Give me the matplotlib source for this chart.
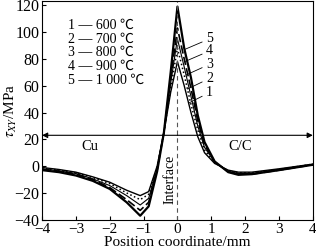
import matplotlib

matplotlib.use("Agg")
import matplotlib.pyplot as plt
import numpy as np

plt.rcParams["font.family"] = ["Liberation Serif", "Noto Sans CJK SC", "DejaVu Sans"]
plt.rcParams["mathtext.fontset"] = "stix"
plt.rcParams["font.size"] = 10

# position coordinate, mm
x = [-4, -3.5, -3, -2.5, -2, -1.5, -1.1, -0.85, -0.6, -0.4, -0.2, 0,
     0.2, 0.4, 0.6, 0.8, 1.1, 1.5, 1.8, 2.2, 3, 4]

# shear stress tau_XY, MPa
tau_600 = [-1, -2.5, -4.5, -8, -12, -18, -22, -19, 0, 25, 55, 78,
           60, 40, 22, 10, 2, -3, -4.5, -4.5, -2, 1.5]
tau_700 = [-1.5, -3, -5, -8.5, -13, -20, -25, -21, -1, 25, 58, 88,
           68, 46, 27, 12, 2.5, -3.5, -5, -5, -2.5, 1.5]
tau_800 = [-2, -3.5, -5.5, -9.5, -14.5, -22, -29, -24, -2, 25, 62, 95,
           74, 52, 30, 14, 3, -4, -5.5, -5.5, -2.5, 1]
tau_900 = [-2.5, -4, -6, -10, -16, -25, -33, -27, -3, 25, 65, 103,
           80, 58, 34, 16, 3, -4, -6, -6, -3, 1]
tau_1000 = [-3, -4.5, -7, -11, -17, -27, -37, -30, -4, 25, 70, 119,
            88, 66, 38, 18, 3.5, -4.5, -6.5, -6, -3, 1]

temps = ["600 ℃", "700 ℃", "800 ℃", "900 ℃", "1 000 ℃"]
series = [tau_600, tau_700, tau_800, tau_900, tau_1000]
styles = [("-", 1.0), (":", 1.1), ("-", 0.8), ((0, (5, 2)), 1.2), ("-", 1.6)]
# curve labels next to the peaks
label_y = [55, 65.5, 76, 86, 95]

fig = plt.figure(figsize=(3.16, 2.52), dpi=100)
ax = fig.add_axes([0.133, 0.128, 0.857, 0.867])

for ys, (ls, lw) in zip(series, styles):
    ax.plot(x, ys, color="black", linestyle=ls, linewidth=lw)

ax.axvline(0, color="#555555", linestyle=(0, (4, 3)), linewidth=0.8)

# Cu / C/C region arrows
arrow_y = 23
ax.annotate("", xy=(-4, arrow_y), xytext=(0, arrow_y),
            arrowprops=dict(arrowstyle="-|>", color="black", lw=0.8,
                            shrinkA=0, shrinkB=0, mutation_scale=8))
ax.annotate("", xy=(4, arrow_y), xytext=(0, arrow_y),
            arrowprops=dict(arrowstyle="-|>", color="black", lw=0.8,
                            shrinkA=0, shrinkB=0, mutation_scale=8))
ax.text(-2.6, 15, "Cu", ha="center", va="center", fontsize=10.5)
ax.text(1.85, 15, "C/C", ha="center", va="center", fontsize=10.5)
ax.text(-0.22, -10, "Interface", rotation=90, ha="center", va="center")

# numbered legend
for i, t in enumerate(temps):
    ax.text(0.095, 0.89 - i * 0.063, f"{i + 1} — {t}", transform=ax.transAxes,
            ha="left", va="center")

# leader lines to the peaks
xs = np.array(x)
for i, ys in enumerate(series):
    ys = np.array(ys)
    right = xs >= 0
    xr, yr = xs[right][::-1], ys[right][::-1]
    tx = np.interp(label_y[i] - 8, yr, xr)
    ax.annotate(str(i + 1), xy=(tx, label_y[i] - 8), xytext=(0.85, label_y[i]),
                ha="left", va="center",
                arrowprops=dict(arrowstyle="-", color="black", lw=0.6,
                                shrinkA=1, shrinkB=0))

ax.set_xlim(-4, 4)
ax.set_ylim(-40, 123)
ax.set_xticks(range(-4, 5))
ax.set_yticks(range(-40, 121, 20))
ax.set_xticklabels([str(v).replace("-", "−") for v in range(-4, 5)])
ax.tick_params(direction="in", length=3, width=0.8, pad=2, labelsize=11.5)
ax.tick_params(axis="x", pad=2, labelsize=11)
for s in ax.spines.values():
    s.set_linewidth(0.8)
ax.set_xlabel("Position coordinate/mm", labelpad=0, fontsize=11)
ax.set_ylabel(r"$\tau_{XY}$/MPa", fontsize=11)
ax.yaxis.set_label_coords(-0.085, 0.5)

fig.savefig("out.png", dpi=100)
plt.close(fig)
